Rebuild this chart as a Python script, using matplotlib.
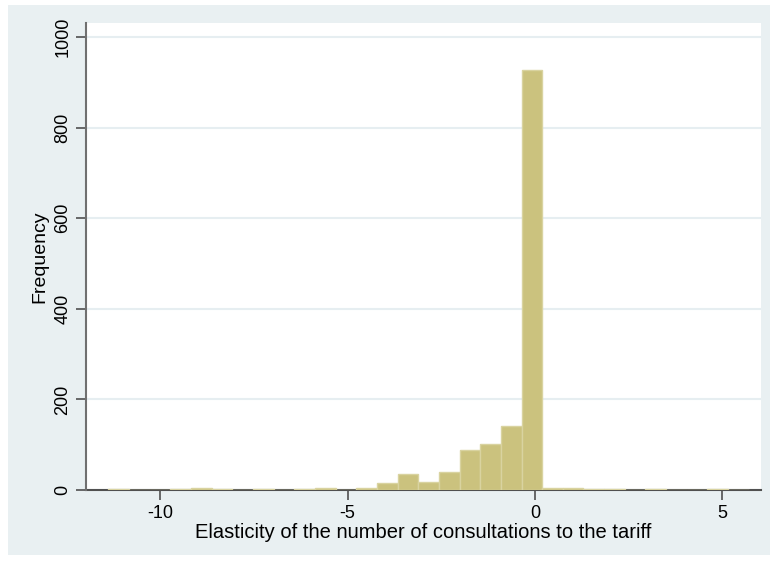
import matplotlib
matplotlib.use('Agg')
import matplotlib.pyplot as plt
from matplotlib.patches import Rectangle
import numpy as np

# histogram data
bin_start = -11.38
bin_width = 0.551
counts = [2, 0, 0, 2, 4, 2, 0, 3, 1, 3,
          5, 1, 4, 16, 35, 18, 40, 88, 102, 142,
          927, 4, 4, 2, 2, 1, 3, 1, 0, 3, 1]
x_ticks = [-10, -5, 0, 5]
y_ticks = [0, 200, 400, 600, 800, 1000]

edges = bin_start + bin_width * np.arange(len(counts) + 1)
centers = (edges[:-1] + edges[1:]) / 2

plt.rcParams['font.family'] = ['Liberation Sans', 'DejaVu Sans']
plt.rcParams['axes.unicode_minus'] = False

fig = plt.figure(figsize=(7.7, 5.65), dpi=100)
fig.patch.set_facecolor('white')
# stata-like graph region
fig.patches.append(Rectangle((8 / 770, 10 / 565), 762 / 770, 550 / 565,
                             transform=fig.transFigure, facecolor='#e9f0f2',
                             edgecolor='none', zorder=-10))

ax = fig.add_axes([86 / 770, 75 / 565, 675 / 770, 467 / 565])
ax.set_zorder(1)
ax.set_facecolor('white')

ax.hist(centers, bins=edges, weights=counts, color='#cbc27e',
        edgecolor='#d9d3a0', linewidth=1.0, zorder=3)

ax.set_xlim(-11.98, 6.03)
ax.set_ylim(0, 1031)
ax.set_xticks(x_ticks)
ax.set_yticks(y_ticks)
ax.set_yticklabels([str(v) for v in y_ticks], rotation=90, va='center')

ax.grid(axis='y', color='#e6eef1', linewidth=1.5, zorder=0)
ax.set_axisbelow(True)

for s in ['top', 'right']:
    ax.spines[s].set_visible(False)
ax.spines['left'].set_color('#707070')
ax.spines['left'].set_linewidth(1.5)
ax.spines['bottom'].set_color('#505050')
ax.spines['bottom'].set_linewidth(1.5)
ax.spines['bottom'].set_zorder(2)

ax.tick_params(axis='both', labelsize=13, colors='#505050', labelcolor='black',
               length=7, width=1.2)

ax.set_xlabel('Elasticity of the number of consultations to the tariff',
              fontsize=14.5, labelpad=1)
ax.set_ylabel('Frequency', fontsize=14, labelpad=4)

plt.savefig('out.png', dpi=100)
